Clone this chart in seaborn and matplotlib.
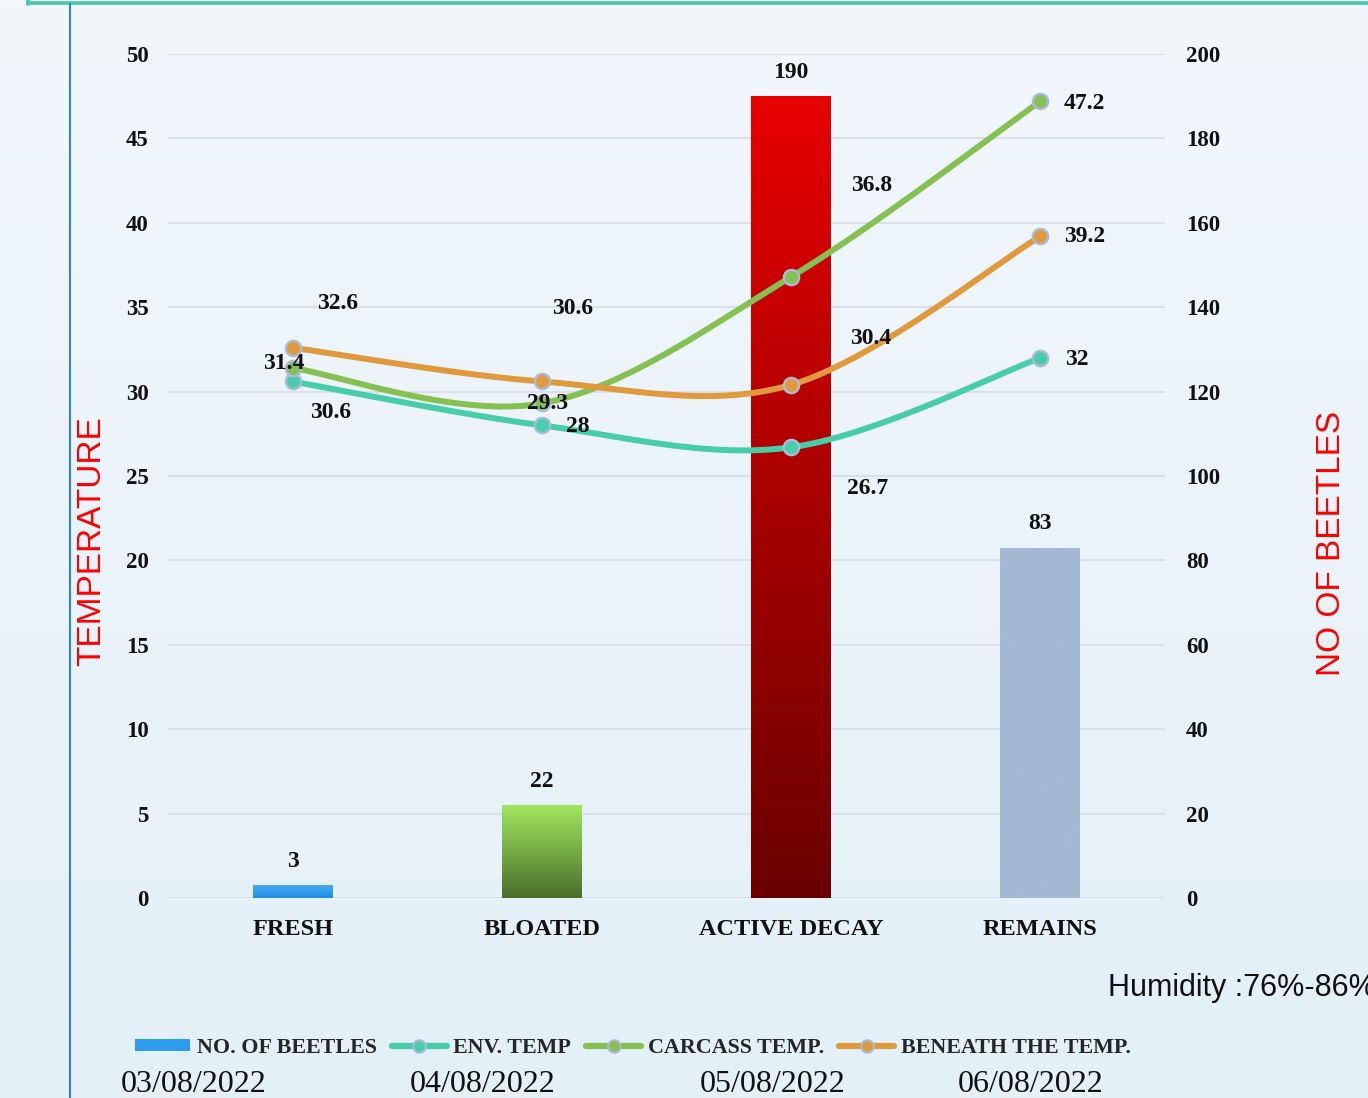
import numpy as np
import pandas as pd
import matplotlib
matplotlib.use("Agg")
import matplotlib.pyplot as plt
import seaborn as sns
from matplotlib.colors import LinearSegmentedColormap
from matplotlib.patches import Patch
from matplotlib.lines import Line2D
from matplotlib.font_manager import FontProperties

# ---------------- data ----------------
stages = ["FRESH", "BLOATED", "ACTIVE DECAY", "REMAINS"]
dates = ["03/08/2022", "04/08/2022", "05/08/2022", "06/08/2022"]
beetles = [3, 22, 190, 83]
env_temp = [30.6, 28, 26.7, 32]
carcass_temp = [31.4, 29.3, 36.8, 47.2]
beneath_temp = [32.6, 30.6, 30.4, 39.2]
temp_ticks = [0, 5, 10, 15, 20, 25, 30, 35, 40, 45, 50]
beetle_ticks = [0, 20, 40, 60, 80, 100, 120, 140, 160, 180, 200]
series_names = ["ENV. TEMP", "CARCASS TEMP.", "BENEATH THE TEMP."]
bar_name = "NO. OF BEETLES"
humidity_note = "Humidity :76%-86%"

# ---------------- styles ----------------
line_colors = ["#48CDAA", "#84C052", "#E09A3C"]
marker_edge = "#A9BBD9"
bar_grads = [("#1D8DE6", "#49AAF2"), ("#4A6E2A", "#A2E65E"),
             ("#6A0000", "#E80000"), ("#A3B8D3", "#A3B8D3")]
# label offsets in pixels (dx, dy) per series / point
label_offsets = [
    [(38, -31), (36, -1), (76, -41), (36, -2)],
    [(-9, 4), (6, 0), (80, 91), (44, -2)],
    [(45, 44), (31, 73), (80, 46), (44, 0)],
]

sns.set_style("white")
plt.rcParams["font.family"] = ["Liberation Serif", "DejaVu Serif"]
SERIF = ["Liberation Serif", "DejaVu Serif"]
SANS = ["Liberation Sans", "DejaVu Sans"]

W, H = 1368, 1098
fig = plt.figure(figsize=(W / 100, H / 100), dpi=100)

# background gradient
bg = fig.add_axes([0, 0, 1, 1], zorder=-10)
grad = np.linspace(0, 1, 256)[:, None]
bg_cmap = LinearSegmentedColormap.from_list("bg", ["#F2F7FC", "#E3F0F8"])
bg.imshow(grad, extent=[0, 1, 0, 1], aspect="auto", cmap=bg_cmap, origin="upper")
bg.axis("off")

# decorative lines
fig.add_artist(Line2D([28 / W, 1], [1 - 3 / H] * 2, color="#45C6AE", lw=2.6,
                      transform=fig.transFigure))
fig.add_artist(Line2D([28 / W, 28 / W], [1, 1 - 4 / H], color="#45C6AE", lw=2.6,
                      transform=fig.transFigure))
fig.add_artist(Line2D([69.5 / W] * 2, [0, 1 - 4 / H], color="#2E86C8", lw=1.5,
                      transform=fig.transFigure))

left, right, bottom, top = 168 / W, 1165 / W, 1 - 898 / H, 1 - 54 / H
ax = fig.add_axes([left, bottom, right - left, top - bottom])
ax.set_facecolor("none")

df = pd.DataFrame({"stage": stages, "beetles": beetles})
sns.barplot(data=df, x="stage", y="beetles", ax=ax, width=0.32,
            color="#A3B8D3", saturation=1, zorder=2)
ax.set_xlim(-0.5, 3.5)
ax.set_ylim(0, 200)

# gradient fills
for p, (c0, c1) in zip(ax.patches, bar_grads):
    x0, y0 = p.get_x(), p.get_y()
    w, h = p.get_width(), p.get_height()
    cmap = LinearSegmentedColormap.from_list("g", [c0, c1])
    im = ax.imshow(np.linspace(0, 1, 256)[:, None], extent=[x0, x0 + w, y0, y0 + h],
                   aspect="auto", cmap=cmap, origin="lower", zorder=2.5)
    im.set_clip_path(p)
    p.set_facecolor("none")
    p.set_edgecolor("none")
ax.set_xlim(-0.5, 3.5)
ax.set_ylim(0, 200)

for i, b in enumerate(beetles):
    ax.annotate(str(b), (i, b), xytext=(0, 24), textcoords="offset pixels",
                ha="center", va="center", fontsize=17, fontweight="bold",
                family=SERIF, color="#111111", zorder=6)

ax.set_xlabel("")
ax.set_ylabel("")
ax.grid(axis="y", color="#D8E0EB", lw=1.5)
ax.grid(axis="x", visible=False)
ax.set_axisbelow(True)
for s in ax.spines.values():
    s.set_visible(False)

ax2 = ax.twinx()
ax2.set_ylim(0, 50)
ax2.set_yticks(temp_ticks)
for s in ax2.spines.values():
    s.set_visible(False)

ax.yaxis.tick_right()
ax.set_yticks(beetle_ticks)
ax2.yaxis.tick_left()
ax.tick_params(axis="y", length=0, pad=15, labelsize=16.5, labelright=True, labelleft=False)
ax2.tick_params(axis="y", length=0, pad=14, labelsize=16.5, labelleft=True, labelright=False)
ax.tick_params(axis="x", length=0, pad=15, labelsize=17.5)
for lab in ax.get_xticklabels() + ax.get_yticklabels() + ax2.get_yticklabels():
    lab.set_fontweight("bold")
    lab.set_family(SERIF)
    lab.set_color("#111111")


def smooth(xs, ys, n=60):
    pts = np.column_stack([xs, ys]).astype(float)
    out = []
    for i in range(len(pts) - 1):
        p0 = pts[max(i - 1, 0)]
        p1 = pts[i]
        p2 = pts[i + 1]
        p3 = pts[min(i + 2, len(pts) - 1)]
        c1 = p1 + (p2 - p0) / 6
        c2 = p2 - (p3 - p1) / 6
        t = np.linspace(0, 1, n)[:, None]
        seg = (1 - t) ** 3 * p1 + 3 * (1 - t) ** 2 * t * c1 + 3 * (1 - t) * t ** 2 * c2 + t ** 3 * p2
        out.append(seg if i == 0 else seg[1:])
    return np.vstack(out)


xs = np.arange(len(stages))
all_series = [env_temp, carcass_temp, beneath_temp]
for vals, col in zip(all_series, line_colors):
    cur = smooth(xs, vals)
    ax2.plot(cur[:, 0], cur[:, 1], color=col, lw=4.3, solid_capstyle="round", zorder=3)
    sns.scatterplot(x=xs, y=vals, ax=ax2, color=col, edgecolor=marker_edge,
                    linewidth=1.7, s=120, zorder=4, legend=False)
for vals, offs in zip(all_series, label_offsets):
    for i, (v, (dx, dy)) in enumerate(zip(vals, offs)):
        ax2.annotate(f"{v:g}", (i, v), xytext=(dx, dy), textcoords="offset pixels",
                     ha="center", va="center", fontsize=17, fontweight="bold",
                     family=SERIF, color="#111111", zorder=6)
ax2.set_ylabel("")

# axis titles
fig.text(92 / W, 1 - 541 / H, "TEMPERATURE", rotation=90, color="#FF0000",
         fontsize=24, family=SANS, ha="center", va="center")
fig.text(1332 / W, 1 - 543 / H, "NO OF BEETLES", rotation=90, color="#FF0000",
         fontsize=24, family=SANS, ha="center", va="center")

fig.text(1108 / W, 1 - 988 / H, humidity_note, fontsize=22, family=SANS,
         ha="left", va="center", color="#111111")

# legend
handles = [Patch(facecolor="#2D9BEE", edgecolor="none")]
for col in line_colors:
    handles.append(Line2D([0], [0], color=col, lw=4.5, marker="o", ms=9,
                          mfc=col, mec=marker_edge, mew=1.5))
fig.legend(handles, [bar_name] + series_names, loc="center",
           bbox_to_anchor=(633 / W, 1 - 1048 / H), ncol=4, frameon=False,
           prop=FontProperties(family=SERIF, weight="bold", size=15.8),
           handlelength=2.5, handletextpad=0.3, columnspacing=0.7, handleheight=0.5)

date_x = [194, 483, 773, 1031]
for d, x in zip(dates, date_x):
    fig.text(x / W, 1 - 1085 / H, d, fontsize=23, family=SERIF, ha="center",
             va="center", color="#111111")

fig.savefig("out.png", dpi=100)
